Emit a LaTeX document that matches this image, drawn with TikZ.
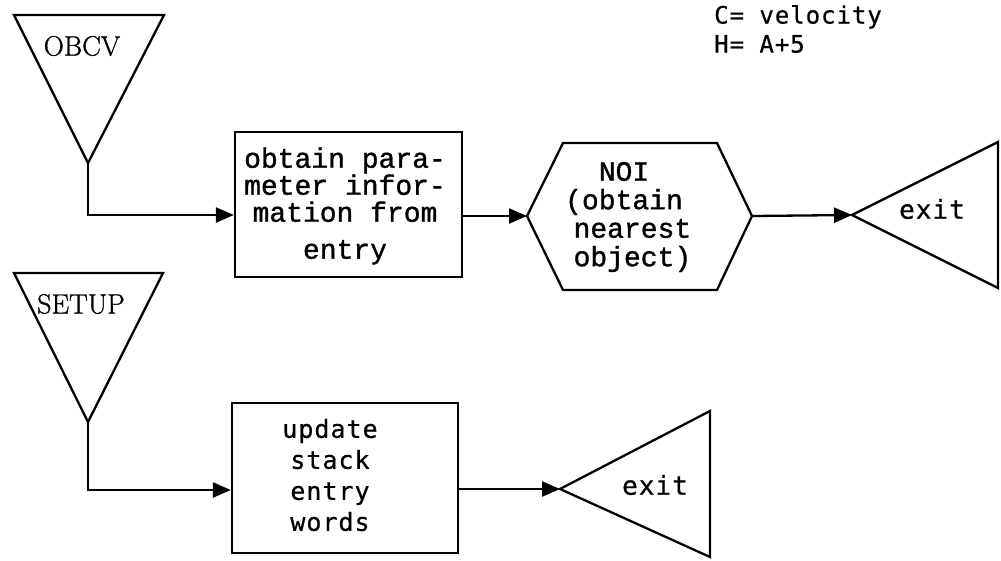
\documentclass[tikz,border=0pt]{standalone}
\usepackage{fontspec}
\usetikzlibrary{arrows.meta}
\newfontfamily\twfont[FakeBold=1.2]{Liberation Mono}
\newfontfamily\smfont[LetterSpace=4,FakeBold=0.6]{DejaVu Sans Mono}
\newfontfamily\rmlabel[FakeBold=1]{Latin Modern Roman}
\begin{document}
\begin{tikzpicture}[x=1pt,y=-1pt,
  shape line/.style={line width=2.3pt, line join=miter},
  flow/.style={line width=2.3pt, -{Triangle[length=18pt,width=15pt]}},
  boxnode/.style={draw, line width=2.3pt, rectangle, inner sep=0pt},
  twtext/.style={font=\fontsize{28}{27}\twfont, align=center, inner sep=0pt},
  smtext/.style={font=\fontsize{25}{31}\smfont, align=center, inner sep=0pt},
  serif/.style={font=\fontsize{28}{30}\rmlabel, inner sep=0pt}]
\useasboundingbox (0,0) rectangle (1001,560);

% OBCV entry triangle
\coordinate (obcvtl) at (14,15);
\coordinate (obcvtr) at (164,15);
\coordinate (obcvtip) at (88,163);
\draw[shape line] (obcvtl) -- (obcvtr) -- (obcvtip) -- cycle;
\node[serif] (obcv) at (82,46) {OBCV};

% box 1
\node[boxnode, minimum width=227pt, minimum height=145pt] (box1) at (348.5,204.5) {};
\node[twtext] (box1text) at (345,206) {obtain para-\\meter infor-\\mation from\\[10pt]entry};

% hexagon NOI
\coordinate (hexL) at (527,216);
\coordinate (hexTL) at (563,143);
\coordinate (hexTR) at (717,143);
\coordinate (hexR) at (752,216);
\coordinate (hexBR) at (717,290);
\coordinate (hexBL) at (563,290);
\draw[shape line] (hexL) -- (hexTL) -- (hexTR) -- (hexR) -- (hexBR) -- (hexBL) -- cycle;
\node[twtext, font=\fontsize{28}{28.5}\twfont] (noi) at (624,217) {NOI\\(obtain\\\ nearest\\\ object)};

% exit 1
\coordinate (exit1tip) at (852,215);
\coordinate (exit1top) at (998,142);
\coordinate (exit1bot) at (998,288);
\draw[shape line] (exit1tip) -- (exit1top) -- (exit1bot) -- cycle;
\node[font=\fontsize{26}{28}\smfont, inner sep=0pt] (exit1) at (932,209) {exit};

% SETUP entry triangle
\coordinate (setuptl) at (14,273);
\coordinate (setuptr) at (163,273);
\coordinate (setuptip) at (88,422);
\draw[shape line] (setuptl) -- (setuptr) -- (setuptip) -- cycle;
\node[serif] (setup) at (81,304) {SETUP};

% box 2
\node[boxnode, minimum width=226pt, minimum height=150pt] (box2) at (345,478) {};
\node[smtext] (box2text) at (330,475) {update\\stack\\entry\\words};

% exit 2
\coordinate (exit2tip) at (560,489);
\coordinate (exit2top) at (710,411);
\coordinate (exit2bot) at (710,557);
\draw[shape line] (exit2tip) -- (exit2top) -- (exit2bot) -- cycle;
\node[font=\fontsize{26}{28}\smfont, inner sep=0pt] (exit2) at (655,485) {exit};

% notes
\node[font=\fontsize{24}{29}\smfont, align=left, anchor=north west, inner sep=0pt] (notes) at (714,5) {C= velocity\\H= A+5};

% connectors
\coordinate (obcvcorner) at (88,215);
\coordinate (setupcorner) at (88,490);
\draw[flow] (obcvtip) -- (obcvcorner) -- (obcvcorner -| box1.west);
\draw[flow] (box1.east |- hexL) -- (hexL);
\draw[flow] (hexR) -- (exit1tip);
\draw[flow] (setuptip) -- (setupcorner) -- (setupcorner -| box2.west);
\draw[flow] (box2.east |- exit2tip) -- (exit2tip);
\end{tikzpicture}
\end{document}
